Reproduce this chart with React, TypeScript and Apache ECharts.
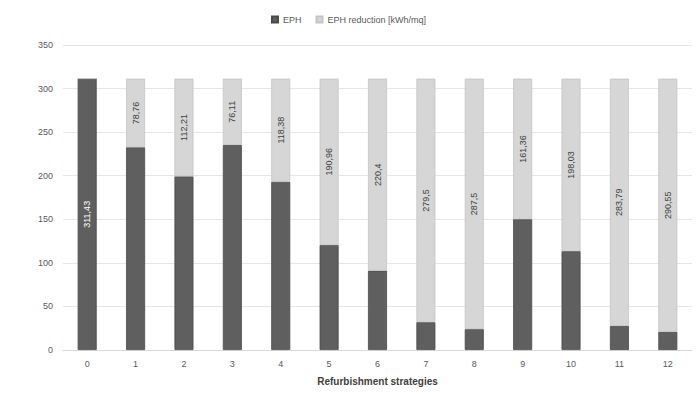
import React, { useEffect, useRef } from "react";
import * as echarts from "echarts";

const categories = ["0", "1", "2", "3", "4", "5", "6", "7", "8", "9", "10", "11", "12"];
const ephValues = [311.43, 232.67, 199.22, 235.32, 193.05, 120.47, 91.03, 31.93, 23.93, 150.07, 113.4, 27.64, 20.88];
const reductionValues = [0, 78.76, 112.21, 76.11, 118.38, 190.96, 220.4, 279.5, 287.5, 161.36, 198.03, 283.79, 290.55];
const yTicks = [0, 50, 100, 150, 200, 250, 300, 350];

const fmt = (v: number) => String(v).replace(".", ",");

export default function App() {
  const ref = useRef<HTMLDivElement>(null);
  useEffect(() => {
    const chart = echarts.init(ref.current!, null, { renderer: "svg" });
    const font = "Liberation Sans, Arial, sans-serif";
    chart.setOption({
      animation: false,
      textStyle: { fontFamily: font },
      legend: {
        top: 10,
        left: "center",
        itemWidth: 6,
        itemHeight: 6,
        itemGap: 14,
        icon: "rect",
        textStyle: { fontSize: 9, color: "#595959", fontFamily: font },
        data: ["EPH", "EPH reduction [kWh/mq]"],
      },
      grid: { left: 63, right: 5, top: 45, bottom: 46, containLabel: false },
      xAxis: {
        type: "category",
        data: categories,
        name: "Refurbishment strategies",
        nameLocation: "middle",
        nameGap: 26,
        nameTextStyle: { fontSize: 10, fontWeight: "bold", color: "#404040", fontFamily: font },
        axisLine: { lineStyle: { color: "#d9d9d9", width: 1 } },
        axisTick: { show: false },
        axisLabel: { fontSize: 9, color: "#595959", margin: 9 },
      },
      yAxis: {
        type: "value",
        min: yTicks[0],
        max: yTicks[yTicks.length - 1],
        interval: 50,
        axisLine: { show: false },
        axisTick: { show: false },
        axisLabel: { fontSize: 9, color: "#595959", margin: 10 },
        splitLine: { lineStyle: { color: "#e6e6e6", width: 1 } },
      },
      series: [
        {
          name: "EPH",
          type: "bar",
          stack: "total",
          barWidth: 19,
          itemStyle: { color: "#5f5f5f", borderColor: "#4a4a4a", borderWidth: 0.8 },
          data: ephValues.map((v, i) => ({
            value: v,
            label: {
              show: i === 0,
              position: "inside",
              rotate: 90,
              color: "#ffffff",
              fontSize: 9,
              formatter: () => fmt(v),
            },
          })),
        },
        {
          name: "EPH reduction [kWh/mq]",
          type: "bar",
          stack: "total",
          barWidth: 19,
          itemStyle: { color: "#d6d6d6", borderColor: "#c4c4c4", borderWidth: 0.8 },
          data: reductionValues.map((v) => ({
            value: v,
            label: {
              show: v > 0,
              position: "inside",
              rotate: 90,
              color: "#404040",
              fontSize: 9,
              formatter: () => fmt(v),
            },
          })),
        },
      ],
    });
    return () => chart.dispose();
  }, []);
  return <div ref={ref} style={{ width: 697, height: 396, position: "absolute", left: 0, top: 0 }} />;
}
